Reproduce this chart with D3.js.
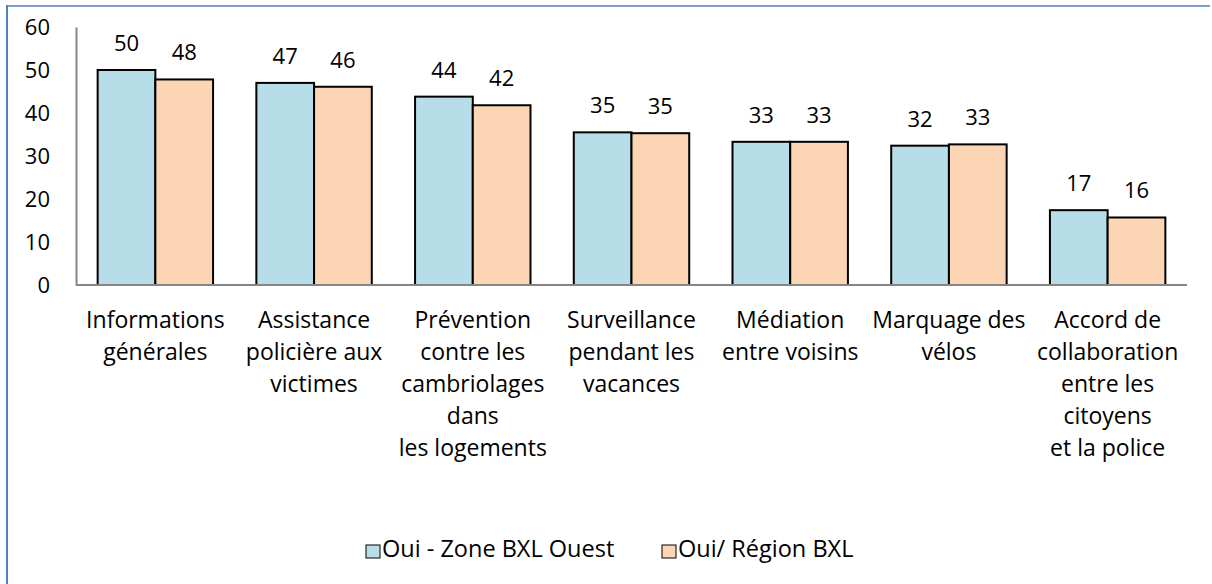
<!DOCTYPE html>
<html>
<head>
<meta charset="utf-8">
<script src="https://cdn.jsdelivr.net/npm/d3@7"></script>
<style>
  body { margin: 0; background: #fff; }
  svg { display: block; font-family: "Open Sans", sans-serif; }
</style>
</head>
<body>
<div id="chart"></div>
<script>
// data
const categories = [
  ["Informations", "générales"],
  ["Assistance", "policière aux", "victimes"],
  ["Prévention", "contre les", "cambriolages", "dans", "les logements"],
  ["Surveillance", "pendant les", "vacances"],
  ["Médiation", "entre voisins"],
  ["Marquage des", "vélos"],
  ["Accord de", "collaboration", "entre les", "citoyens", "et la police"]
];
const seriesNames = ["Oui - Zone BXL Ouest", "Oui/ Région BXL"];
const valuesZone = [50.0, 47.0, 43.8, 35.5, 33.3, 32.4, 17.4];
const valuesRegion = [47.8, 46.1, 41.8, 35.3, 33.3, 32.7, 15.7];
const labelsZone = [50, 47, 44, 35, 33, 32, 17];
const labelsRegion = [48, 46, 42, 35, 33, 33, 16];
const yTicks = [0, 10, 20, 30, 40, 50, 60];
const colors = ["#b7dee8", "#fcd5b5"];

const W = 1212, H = 584;
const svg = d3.select("#chart").append("svg").attr("width", W).attr("height", H);

// frame (left + top edges visible)
svg.append("line").attr("x1", 7).attr("x2", 7).attr("y1", 5).attr("y2", H)
  .attr("stroke", "#4f81bd").attr("stroke-width", 2);
svg.append("line").attr("x1", 6).attr("x2", 1210).attr("y1", 6).attr("y2", 6)
  .attr("stroke", "#4f81bd").attr("stroke-width", 1.5);

const keys = categories.map((c, i) => i);
const x = d3.scaleBand().domain(keys).range([76, 1187]).padding(0);
const xs = d3.scaleBand().domain([0, 1]).range([0, x.bandwidth()]).paddingInner(0).paddingOuter(0.375);
const y = d3.scaleLinear().domain([0, 60]).range([285, 27]);

// y axis
const yAxis = svg.append("g").attr("transform", "translate(76,0)")
  .call(d3.axisLeft(y).tickValues(yTicks).tickSize(0).tickPadding(26));
yAxis.select(".domain").attr("stroke", "#868686").attr("stroke-width", 2);
yAxis.selectAll("text").attr("font-size", 22).attr("fill", "#000")
  .attr("font-family", "Open Sans, sans-serif");

// bars
const rows = keys.map(i => [
  {s: 0, i, v: valuesZone[i], lab: labelsZone[i]},
  {s: 1, i, v: valuesRegion[i], lab: labelsRegion[i]}
]);
const grp = svg.append("g").selectAll("g").data(rows).join("g")
  .attr("transform", d => `translate(${x(d[0].i)},0)`);
grp.selectAll("rect").data(d => d).join("rect")
  .attr("x", d => xs(d.s))
  .attr("y", d => y(d.v))
  .attr("width", xs.bandwidth())
  .attr("height", d => y(0) - y(d.v))
  .attr("fill", d => colors[d.s])
  .attr("stroke", "#000").attr("stroke-width", 2);
grp.selectAll("text").data(d => d).join("text")
  .attr("x", d => xs(d.s) + xs.bandwidth() / 2)
  .attr("y", d => y(d.v) - 19)
  .attr("text-anchor", "middle")
  .attr("font-size", 22)
  .text(d => d.lab);

// x axis line
svg.append("line").attr("x1", 76).attr("x2", 1187).attr("y1", 285).attr("y2", 285)
  .attr("stroke", "#868686").attr("stroke-width", 2);

// category labels
const cat = svg.append("g").selectAll("text").data(keys).join("text")
  .attr("x", i => x(i) + x.bandwidth() / 2)
  .attr("y", 328)
  .attr("text-anchor", "middle")
  .attr("font-size", 23);
cat.selectAll("tspan").data(i => categories[i]).join("tspan")
  .attr("x", function () { return d3.select(this.parentNode).attr("x"); })
  .attr("dy", (d, j) => j === 0 ? 0 : 32)
  .text(d => d);

// legend
const legendX = [366, 662];
const leg = svg.append("g").selectAll("g").data(seriesNames).join("g")
  .attr("transform", (d, i) => `translate(${legendX[i]},544)`);
leg.append("rect").attr("width", 14).attr("height", 13).attr("y", 1)
  .attr("fill", (d, i) => colors[i]).attr("stroke", "#000").attr("stroke-width", 1);
leg.append("text").attr("x", 16).attr("y", 13).attr("font-size", 23.5).text(d => d);
</script>
</body>
</html>
